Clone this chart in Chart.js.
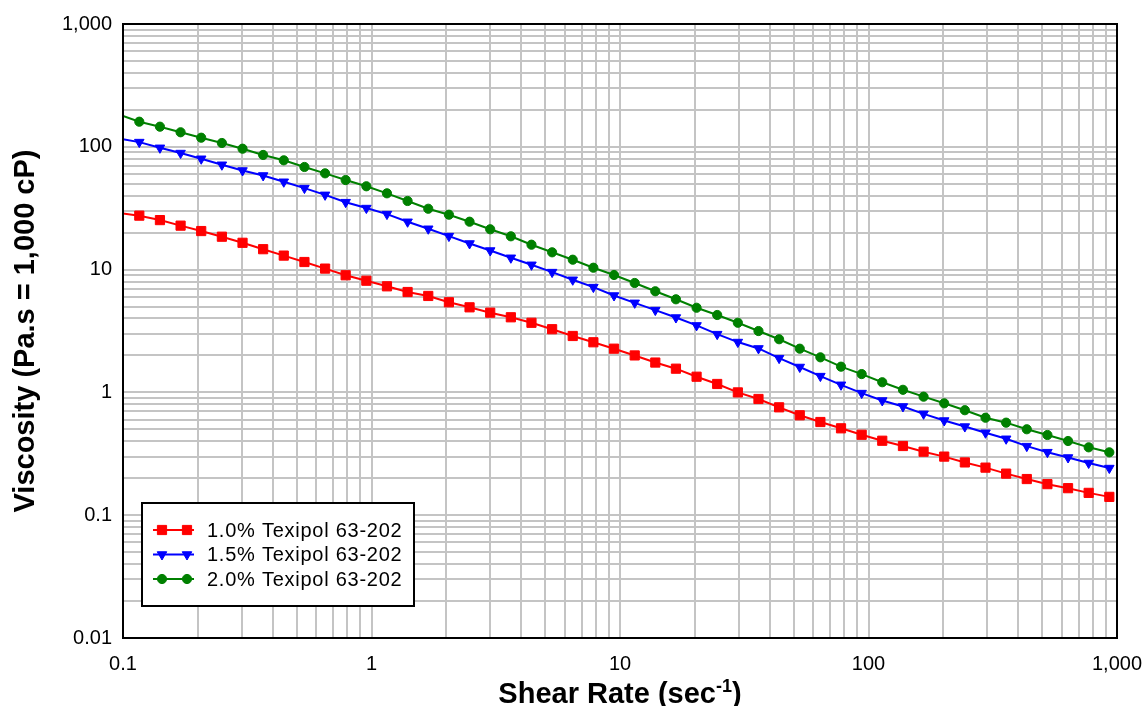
<!DOCTYPE html>
<html>
<head>
<meta charset="utf-8">
<script src="https://cdn.jsdelivr.net/npm/chart.js@4.4.1/dist/chart.umd.min.js"></script>
<style>
  html, body { margin: 0; padding: 0; background: #fff; }
  #wrap { width: 1147px; height: 706px; }
</style>
</head>
<body>
<div id="wrap"><canvas id="chart" width="1147" height="706"></canvas></div>
<script>
// shear rate (1/s) -- first entry is where the curves meet the left axis (no marker)
const shearRate = [0.1, 0.1163, 0.1408, 0.1705, 0.2064, 0.25, 0.3027, 0.3664, 0.4436, 0.5372, 0.6505,
  0.7871, 0.9535, 1.154, 1.397, 1.692, 2.049, 2.481, 3.004, 3.637, 4.403, 5.331, 6.454, 7.814, 9.461,
  11.46, 13.87, 16.79, 20.33, 24.61, 29.80, 36.08, 43.68, 52.89, 64.03, 77.52, 93.87, 113.6, 137.6,
  166.6, 201.7, 244.2, 295.7, 358.0, 433.5, 524.8, 635.4, 769.1, 931.3];

// viscosity (Pa.s)
const visc10 = [28.7, 27.5, 25.3, 22.8, 20.6, 18.53, 16.53, 14.66, 13.00, 11.53, 10.19, 8.99, 8.12,
  7.31, 6.57, 6.10, 5.42, 4.93, 4.46, 4.09, 3.69, 3.27, 2.88, 2.56, 2.27, 2.00, 1.75, 1.56, 1.342,
  1.171, 1.00, 0.884, 0.756, 0.651, 0.574, 0.510, 0.452, 0.404, 0.366, 0.329, 0.300, 0.269, 0.244,
  0.218, 0.197, 0.179, 0.166, 0.152, 0.141];
const visc15 = [115, 109.2, 98.1, 88.9, 79.9, 71.4, 64.1, 58.4, 51.9, 46.1, 40.6, 35.4, 31.7, 28.3,
  24.5, 21.5, 18.74, 16.31, 14.30, 12.48, 10.94, 9.54, 8.26, 7.20, 6.15, 5.36, 4.68, 4.07, 3.51, 2.98,
  2.57, 2.28, 1.90, 1.61, 1.357, 1.153, 0.987, 0.859, 0.768, 0.669, 0.590, 0.527, 0.469, 0.419, 0.365,
  0.326, 0.295, 0.266, 0.242];
const visc20 = [178, 160.1, 145.8, 131.3, 118.6, 107.4, 96.5, 85.8, 77.6, 68.5, 60.8, 53.6, 47.7, 41.8,
  36.2, 31.3, 28.0, 24.55, 21.3, 18.67, 15.95, 13.83, 12.04, 10.36, 9.04, 7.78, 6.66, 5.73, 4.89, 4.27,
  3.69, 3.16, 2.71, 2.27, 1.93, 1.62, 1.41, 1.21, 1.05, 0.923, 0.815, 0.716, 0.622, 0.567, 0.501,
  0.450, 0.402, 0.357, 0.325];

const seriesNames = ['1.0% Texipol 63-202', '1.5% Texipol 63-202', '2.0% Texipol 63-202'];

const xTickValues = [0.1, 1, 10, 100, 1000];
const xTickLabels = ['0.1', '1', '10', '100', '1,000'];
const yTickValues = [0.01, 0.1, 1, 10, 100, 1000];
const yTickLabels = ['0.01', '0.1', '1', '10', '100', '1,000'];

const FONT = '"Liberation Sans", Arial, sans-serif';
const GRID = '#c4c4c4';

// 1..9 per decade, used for the grid
function decadeTicks(majors) {
  const out = [];
  for (let i = 0; i < majors.length - 1; i++) {
    for (let k = 1; k < 10; k++) out.push({ value: majors[i] * k });
  }
  out.push({ value: majors[majors.length - 1] });
  return out;
}

function majorLabel(value, majors, labels) {
  for (let i = 0; i < majors.length; i++) {
    if (Math.abs(Math.log10(value) - Math.log10(majors[i])) < 1e-6) return labels[i];
  }
  return '';
}

function pts(ys) {
  return shearRate.map((x, i) => ({ x: x, y: ys[i] }));
}

// no marker on the axis-edge point
const hideFirst = r => ctx => (ctx.dataIndex === 0 ? 0 : r);

const styles = [
  { color: '#ff0000', pointStyle: 'rect', rotation: 0, radius: 6.5 },
  { color: '#0000ff', pointStyle: 'triangle', rotation: 180, radius: 5.5 },
  { color: '#008000', pointStyle: 'circle', rotation: 0, radius: 4.6 }
];
const seriesData = [visc10, visc15, visc20];

const datasets = seriesData.map((ys, i) => ({
  label: seriesNames[i],
  data: pts(ys),
  borderColor: styles[i].color,
  backgroundColor: styles[i].color,
  borderWidth: 2,
  pointStyle: styles[i].pointStyle,
  pointRotation: styles[i].rotation,
  pointRadius: hideFirst(styles[i].radius),
  pointBorderWidth: 1,
  tension: 0
}));

const frameAndText = {
  id: 'frameAndText',
  afterDraw(chart) {
    const c = chart.ctx;
    const a = chart.chartArea;

    // plot frame
    c.save();
    c.strokeStyle = '#000';
    c.lineWidth = 2;
    c.strokeRect(a.left, a.top, a.right - a.left, a.bottom - a.top);
    c.restore();

    // legend box
    const lx = 142, ly = 503, lw = 272, lh = 103;
    c.save();
    c.fillStyle = '#fff';
    c.fillRect(lx, ly, lw, lh);
    c.strokeStyle = '#000';
    c.lineWidth = 2;
    c.strokeRect(lx, ly, lw, lh);
    const rows = [530, 554.5, 579];
    styles.forEach((s, i) => {
      const y = rows[i];
      c.strokeStyle = s.color;
      c.fillStyle = s.color;
      c.lineWidth = 2;
      c.beginPath();
      c.moveTo(153, y);
      c.lineTo(194, y);
      c.stroke();
      [162, 187].forEach(px => {
        c.lineWidth = 1;
        Chart.helpers.drawPoint(c, { pointStyle: s.pointStyle, rotation: s.rotation, radius: s.radius, borderWidth: 1 }, px, y);
      });
      c.fillStyle = '#000';
      c.font = '20px ' + FONT;
      c.textAlign = 'left';
      c.textBaseline = 'middle';
      c.letterSpacing = '0.75px';
      c.fillText(seriesNames[i], 207, y + 1);
      c.letterSpacing = '0px';
    });
    c.restore();

    // axis titles
    c.save();
    c.fillStyle = '#000';
    c.textBaseline = 'alphabetic';
    const main = 'Shear Rate (sec';
    const sup = '-1';
    const close = ')';
    c.font = 'bold 29px ' + FONT;
    const w1 = c.measureText(main).width;
    const w3 = c.measureText(close).width;
    c.font = 'bold 18px ' + FONT;
    const w2 = c.measureText(sup).width;
    let x0 = (a.left + a.right) / 2 - (w1 + w2 + w3) / 2;
    const by = 703;
    c.textAlign = 'left';
    c.font = 'bold 29px ' + FONT;
    c.fillText(main, x0, by);
    c.font = 'bold 18px ' + FONT;
    c.fillText(sup, x0 + w1, by - 11);
    c.font = 'bold 29px ' + FONT;
    c.fillText(close, x0 + w1 + w2, by);

    c.translate(34, (a.top + a.bottom) / 2);
    c.rotate(-Math.PI / 2);
    c.textAlign = 'center';
    c.font = 'bold 29px ' + FONT;
    c.fillText('Viscosity (Pa.s = 1,000 cP)', 0, 0);
    c.restore();
  }
};

new Chart(document.getElementById('chart'), {
  type: 'line',
  data: { datasets: datasets },
  options: {
    responsive: false,
    animation: false,
    events: [],
    layout: { padding: { left: 0, right: 30, top: 24, bottom: 0 } },
    plugins: { legend: { display: false }, tooltip: { enabled: false } },
    scales: {
      x: {
        type: 'logarithmic',
        min: 0.1,
        max: 1000,
        afterBuildTicks: s => { s.ticks = decadeTicks(xTickValues); },
        afterFit: s => { s.height = 68; s.paddingLeft = 0; s.paddingRight = 0; },
        grid: { color: GRID, lineWidth: 2, drawTicks: false },
        border: { display: false },
        ticks: {
          autoSkip: false,
          maxRotation: 0,
          padding: 14,
          color: '#000',
          font: { family: FONT, size: 20 },
          callback: v => majorLabel(v, xTickValues, xTickLabels)
        }
      },
      y: {
        type: 'logarithmic',
        min: 0.01,
        max: 1000,
        afterBuildTicks: s => { s.ticks = decadeTicks(yTickValues); },
        afterFit: s => { s.width = 123; s.paddingTop = 0; s.paddingBottom = 0; },
        grid: { color: GRID, lineWidth: 2, drawTicks: false },
        border: { display: false },
        ticks: {
          autoSkip: false,
          padding: 11,
          color: '#000',
          font: { family: FONT, size: 20 },
          callback: v => majorLabel(v, yTickValues, yTickLabels)
        }
      }
    }
  },
  plugins: [frameAndText]
});
</script>
</body>
</html>
